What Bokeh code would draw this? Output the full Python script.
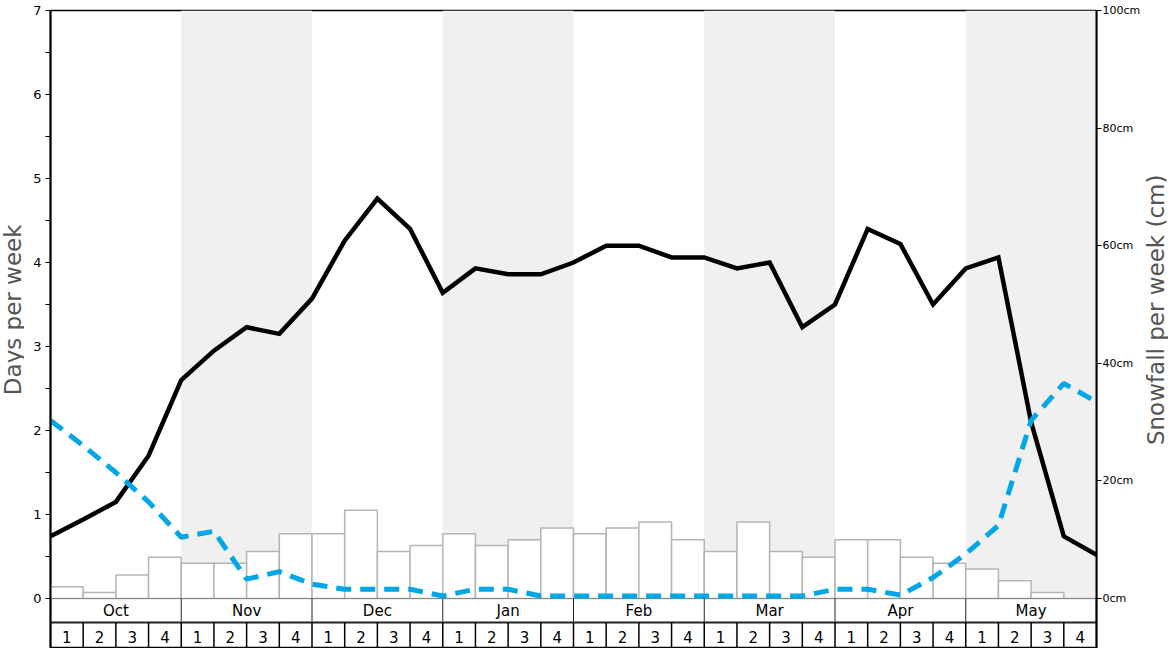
import math
import numpy as np
from bokeh.plotting import figure
from bokeh.layouts import row
from bokeh.models import Range1d, LinearAxis, FixedTicker, PrintfTickFormatter
from bokeh.core.properties import value
from bokeh.embed import file_html
from bokeh.resources import INLINE

# ---------------- data ----------------
months = ["Oct", "Nov", "Dec", "Jan", "Feb", "Mar", "Apr", "May"]
week_labels = ["1", "2", "3", "4"]
day_ticks = [0, 1, 2, 3, 4, 5, 6, 7]
day_minor_ticks = [0.5, 1.5, 2.5, 3.5, 4.5, 5.5, 6.5]
snow_ticks = [0, 20, 40, 60, 80, 100]
left_title = "Days per week"
right_title = "Snowfall per week (cm)"

# weekly snowfall (cm), one bar per week
snowfall_cm = [2, 1, 4, 7,
               6, 6, 8, 11,
               11, 15, 8, 9,
               11, 9, 10, 12,
               11, 12, 13, 10,
               8, 13, 8, 7,
               10, 10, 7, 6,
               5, 3, 1, 0]

# days per week (black solid line), at week boundaries
days_black = [0.74, 0.94, 1.15, 1.70, 2.60, 2.95, 3.23, 3.15, 3.57, 4.26, 4.76,
              4.40, 3.64, 3.93, 3.86, 3.86, 4.00, 4.20, 4.20, 4.06, 4.06, 3.93,
              4.00, 3.23, 3.50, 4.40, 4.22, 3.50, 3.93, 4.06, 2.10, 0.74, 0.52]

# days per week (blue dashed line), at week boundaries
days_blue = [2.12, 1.82, 1.50, 1.15, 0.73, 0.80, 0.23, 0.32, 0.17, 0.11, 0.11,
             0.11, 0.03, 0.11, 0.11, 0.03, 0.03, 0.03, 0.03, 0.03, 0.03, 0.03,
             0.03, 0.03, 0.11, 0.11, 0.04, 0.25, 0.53, 0.87, 2.12, 2.56, 2.34]

# ---------------- layout constants ----------------
H = 648
LEFT_TITLE_W, RIGHT_TITLE_W = 24, 25
W = 1168 - LEFT_TITLE_W - RIGHT_TITLE_W
BORDER_L = 50 - LEFT_TITLE_W
BORDER_R = W + LEFT_TITLE_W - 1102
BORDER_T = 10
frame_h = H - BORDER_T
zero_px_from_top = 598 - BORDER_T              # pixel offset of y=0 inside frame
px_per_day = zero_px_from_top / 7.0
Y_START = -(frame_h - zero_px_from_top) / px_per_day
ROW1 = -24 / px_per_day                         # month row bottom
WEEK_TXT = -38 / px_per_day
MONTH_TXT = -12 / px_per_day
TITLE_CENTER_FROM_TOP = 304

n_weeks = len(snowfall_cm)
FONT = value("DejaVu Sans")

p = figure(width=W, height=H, output_backend="svg", toolbar_location=None,
           x_range=Range1d(0, n_weeks), y_range=Range1d(Y_START, 7),
           x_axis_location=None, min_border_left=BORDER_L,
           min_border_right=BORDER_R, min_border_top=BORDER_T,
           min_border_bottom=0)
p.extra_y_ranges = {"snow": Range1d(Y_START * 100 / 7, 100)}
p.grid.visible = False
p.outline_line_color = "black"
p.outline_line_width = 1.5
p.background_fill_color = "white"
p.border_fill_color = "white"

# left axis
ya = p.yaxis[0]
ya.ticker = FixedTicker(ticks=day_ticks, minor_ticks=day_minor_ticks)
ya.major_label_text_font = "DejaVu Sans"
ya.major_label_text_font_size = "13px"
ya.major_label_text_color = "black"
ya.major_label_standoff = 4
ya.axis_line_width = 2
ya.axis_line_color = "black"
ya.major_tick_out = 5
ya.major_tick_in = 0
ya.minor_tick_out = 5
ya.minor_tick_in = 0
ya.major_tick_line_color = "black"
ya.minor_tick_line_color = "black"

# right axis
ra = LinearAxis(y_range_name="snow",
                ticker=FixedTicker(ticks=snow_ticks, minor_ticks=[]),
                formatter=PrintfTickFormatter(format="%dcm"))
ra.major_label_text_font = "DejaVu Sans"
ra.major_label_text_font_size = "11px"
ra.major_label_text_color = "black"
ra.major_label_standoff = 1
ra.axis_line_width = 2
ra.major_tick_out = 5
ra.major_tick_in = 0
p.add_layout(ra, "right")

# alternating month bands
band_left = [4 * m for m in range(len(months)) if m % 2 == 1]
p.quad(left=band_left, right=[b + 4 for b in band_left], bottom=0, top=7,
       fill_color="#f0f0f0", line_color=None)

# snowfall bars
wk = np.arange(n_weeks)
p.quad(left=wk, right=wk + 1, bottom=0, top=snowfall_cm, y_range_name="snow",
       fill_color="white", line_color="#b4b4b4", line_width=1.5)

# category rows under the chart
p.segment(x0=[0], y0=[0], x1=[n_weeks], y1=[0], line_color="#888888", line_width=1)
p.segment(x0=[0], y0=[ROW1], x1=[n_weeks], y1=[ROW1], line_color="#222222", line_width=2)
mb = [4 * m for m in range(1, len(months))]
p.segment(x0=mb, y0=[0] * len(mb), x1=mb, y1=[ROW1] * len(mb),
          line_color="#222222", line_width=1)
wb = list(range(1, n_weeks))
p.segment(x0=wb, y0=[ROW1] * len(wb), x1=wb, y1=[Y_START] * len(wb),
          line_color="black", line_width=1.5)
p.text(x=[4 * m + 2 for m in range(len(months))], y=[MONTH_TXT] * len(months),
       text=months, text_font=FONT, text_font_size="15px", text_color="black",
       text_align="center", text_baseline="middle")
p.text(x=wk + 0.5, y=[WEEK_TXT] * n_weeks,
       text=[week_labels[i % 4] for i in range(n_weeks)], text_font=FONT,
       text_font_size="15px", text_color="black",
       text_align="center", text_baseline="middle")

# lines
xb = np.arange(n_weeks + 1)
p.line(xb, days_black, line_color="black", line_width=4.5, line_join="miter")
p.line(xb, days_blue, line_color="#00a6e6", line_width=5, line_dash="15 9")


def title_strip(width, text):
    f = figure(width=width, height=H, output_backend="svg", toolbar_location=None,
               x_range=Range1d(0, width), y_range=Range1d(0, H),
               x_axis_location=None, y_axis_location=None,
               min_border=0, min_border_left=0, min_border_right=0,
               min_border_top=0, min_border_bottom=0)
    f.grid.visible = False
    f.outline_line_color = None
    f.background_fill_color = "white"
    f.border_fill_color = "white"
    f.text(x=[width / 2], y=[H - TITLE_CENTER_FROM_TOP], text=[text],
           angle=math.pi / 2, text_font=FONT, text_font_size="23px",
           text_color="#555555", text_align="center", text_baseline="middle")
    return f


lt = title_strip(LEFT_TITLE_W, left_title)
rt = title_strip(RIGHT_TITLE_W, right_title)

layout = row(lt, p, rt, spacing=0)
open("out.html", "w").write(file_html(layout, INLINE))
